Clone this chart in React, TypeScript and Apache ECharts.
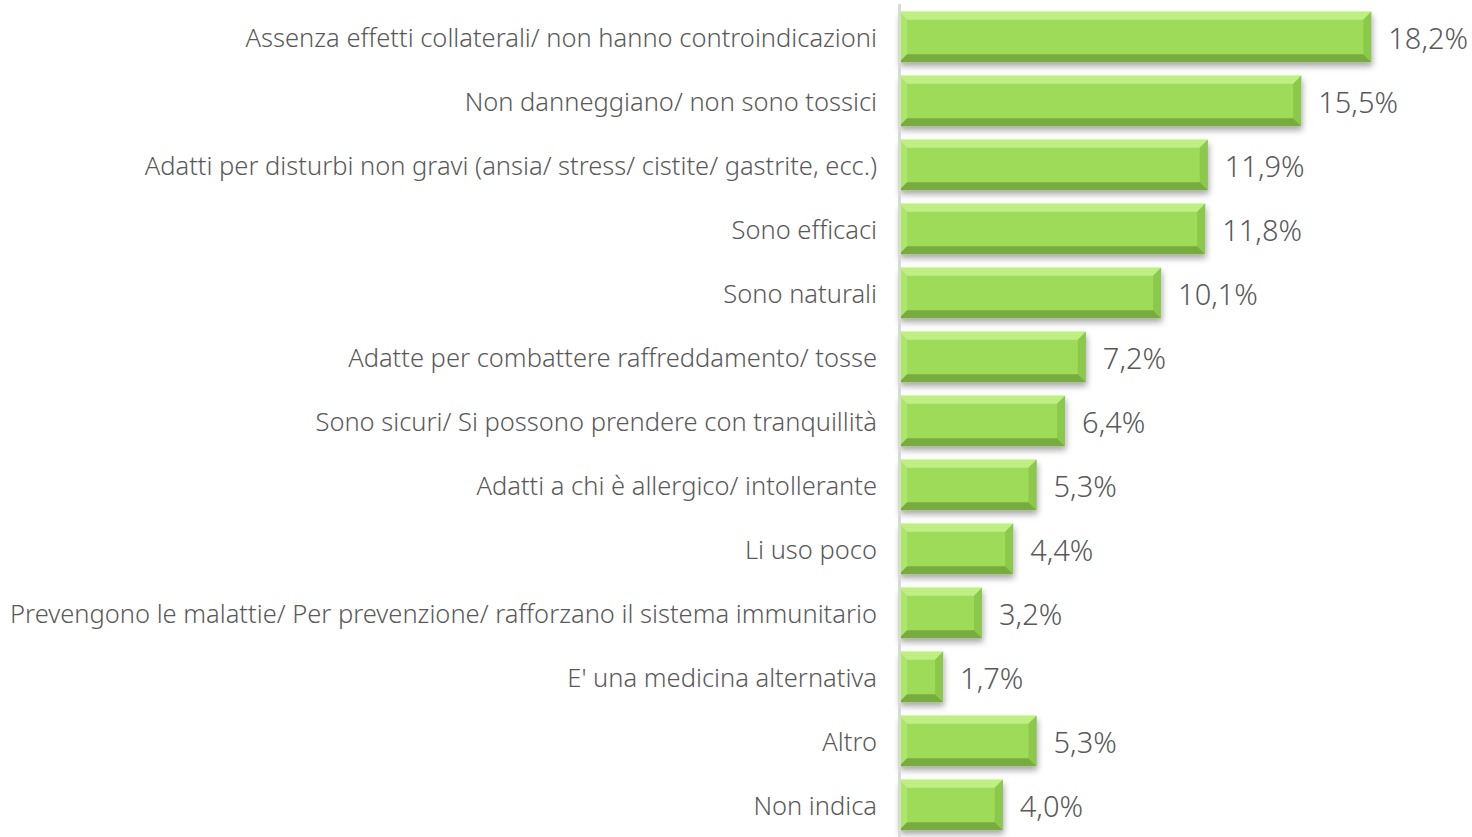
import React, { useEffect, useRef } from "react";
import * as echarts from "echarts";

const categories = [
  "Assenza effetti collaterali/ non hanno controindicazioni",
  "Non danneggiano/ non sono tossici",
  "Adatti per disturbi non gravi (ansia/ stress/ cistite/ gastrite, ecc.)",
  "Sono efficaci",
  "Sono naturali",
  "Adatte per combattere raffreddamento/ tosse",
  "Sono sicuri/ Si possono prendere con tranquillità",
  "Adatti a chi è allergico/ intollerante",
  "Li uso poco",
  "Prevengono le malattie/ Per prevenzione/ rafforzano il sistema immunitario",
  "E' una medicina alternativa",
  "Altro",
  "Non indica",
];

const values = [18.2, 15.5, 11.9, 11.8, 10.1, 7.2, 6.4, 5.3, 4.4, 3.2, 1.7, 5.3, 4.0];

const fmt = (v: number) => v.toFixed(1).replace(".", ",") + "%";

export default function App() {
  const ref = useRef<HTMLDivElement>(null);
  useEffect(() => {
    if (!ref.current) return;
    const chart = echarts.init(ref.current, null, { renderer: "svg" });
    const font = "'Noto Sans', sans-serif";
    chart.setOption({
      animation: false,
      grid: { left: 899, width: 519, top: 5, height: 837 },
      xAxis: {
        type: "value",
        min: 0,
        max: 20,
        show: false,
      },
      yAxis: {
        type: "category",
        data: categories,
        inverse: true,
        axisLine: { show: true, lineStyle: { color: "#d9d9d9", width: 3 } },
        axisTick: { show: false },
        axisLabel: {
          color: "#595959",
          fontSize: 25.5,
          fontWeight: 300,
          fontFamily: font,
          margin: 22,
        },
        z: 5,
      },
      series: [
        {
          type: "custom",
          data: values.map((v, i) => [v, i]),
          encode: { x: 0, y: 1 },
          renderItem: (params: any, api: any) => {
            const v = api.value(0);
            const idx = api.value(1);
            const start = api.coord([0, idx]);
            const end = api.coord([v, idx]);
            const band = api.size([0, 1])[1];
            const h = band * 0.79;
            const x0 = start[0];
            const x1 = end[0];
            const y0 = start[1] - h / 2;
            const y1 = start[1] + h / 2;
            const b = 8;
            const label = fmt(v);
            return {
              type: "group",
              children: [
                {
                  type: "rect",
                  shape: { x: x0, y: y0, width: x1 - x0, height: h },
                  style: {
                    fill: "#9edb58",
                    shadowBlur: 6,
                    shadowOffsetY: 4,
                    shadowOffsetX: 1,
                    shadowColor: "rgba(0,0,0,0.35)",
                  },
                },
                {
                  type: "polygon",
                  shape: { points: [[x0, y0], [x1, y0], [x1 - b, y0 + b], [x0 + b, y0 + b]] },
                  style: { fill: "#bfee84" },
                },
                {
                  type: "polygon",
                  shape: { points: [[x0, y0], [x0 + b, y0 + b], [x0 + b, y1 - b], [x0, y1]] },
                  style: { fill: "#aee66c" },
                },
                {
                  type: "polygon",
                  shape: { points: [[x1, y0], [x1, y1], [x1 - b, y1 - b], [x1 - b, y0 + b]] },
                  style: { fill: "#8ac94a" },
                },
                {
                  type: "polygon",
                  shape: { points: [[x0, y1], [x0 + b, y1 - b], [x1 - b, y1 - b], [x1, y1]] },
                  style: { fill: "#76ad3d" },
                },
                {
                  type: "text",
                  x: x1 + 17,
                  y: start[1],
                  style: {
                    text: label,
                    fill: "#595959",
                    font: `300 29px ${font}`,
                    verticalAlign: "middle",
                    align: "left",
                  },
                },
              ],
            };
          },
        },
      ],
    });
    return () => chart.dispose();
  }, []);
  return (
    <div
      ref={ref}
      style={{ position: "fixed", left: 0, top: 0, width: 1472, height: 837, background: "#fff" }}
    />
  );
}
